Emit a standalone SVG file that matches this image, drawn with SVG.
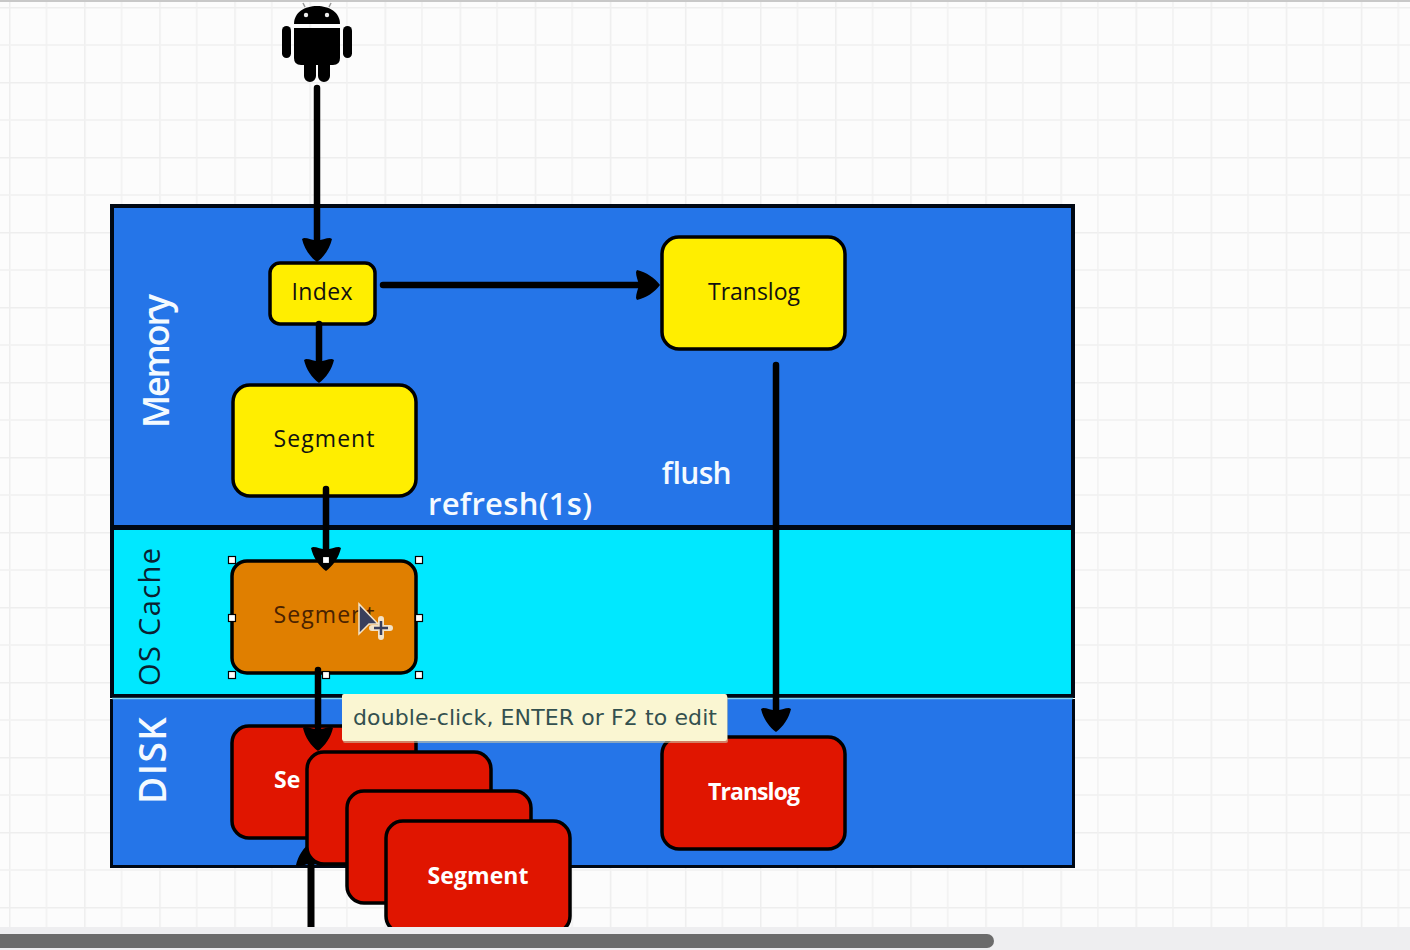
<svg xmlns="http://www.w3.org/2000/svg" width="1410" height="950" viewBox="0 0 1410 950">
<style>
.band{stroke:#000814;stroke-width:4}
.box{stroke:#000;stroke-width:3.5}
.y{fill:#ffee00}.r{fill:#e01500}.o{fill:#e07f00}
text{font-family:"Open Sans","Liberation Sans",sans-serif}
.l{font-size:23px;fill:#111;text-anchor:middle;font-weight:500}
.w{font-size:23px;fill:#fff;font-weight:700;text-anchor:middle}
.big{fill:#f4faff;font-weight:600}
.c{fill:none;stroke:#000;stroke-width:6.500;stroke-linecap:round}
.h{fill:#fff;stroke:#000;stroke-width:1.2}
</style>
<defs>
<pattern id="grid" width="75.1" height="75" patternUnits="userSpaceOnUse" patternTransform="translate(9 7)">
<path d="M0 0V75M0 0H75.1" fill="none" stroke="#eeeeee" stroke-width="3"/>
<path d="M37.5 0V75M0 38H75.1" fill="none" stroke="#f1f1f1" stroke-width="1.5"/>
</pattern>
<marker id="a" markerUnits="userSpaceOnUse" markerWidth="30" markerHeight="32" refX="16" refY="15" orient="auto" overflow="visible">
<path d="M24 15C19 8 10 2 1 0L0 2C0 6 2 11 3 15C2 19 0 24 0 28L1 30C10 28 19 22 24 15Z" fill="#000"/>
</marker>
<clipPath id="view"><rect x="0" y="0" width="1410" height="927"/></clipPath>
</defs>
<rect id="canvas" width="1410" height="950" fill="#fcfcfc"/>
<rect id="grid-bg" width="1410" height="927" fill="url(#grid)"/>
<rect x="0" y="0" width="1410" height="2" fill="#c8c8c8"/>

<g id="android" fill="#000">
<path d="M294 24C294 12 305 6 317 6C329 6 340 12 340 24Z"/>
<path d="M305 7L303 3M329 7L331 3" stroke="#999" stroke-width="1.500"/>
<circle cx="306" cy="15" r="2.200" fill="#eee"/><circle cx="327" cy="15" r="2.200" fill="#eee"/>
<path d="M294 28H340V58Q340 65 333 65H330V76A6 6 0 0 1 318 76V65H316V76A6 6 0 0 1 304 76V65H301Q294 65 294 58Z"/>
<rect x="282" y="26" width="9" height="32" rx="4.500"/>
<rect x="343" y="26" width="9" height="32" rx="4.500"/>
</g>

<g id="band-memory"><rect class="band" x="112" y="206" width="961" height="321" fill="#2575e8"/>
<text class="big" transform="translate(169 428) rotate(-90)" font-size="36" textLength="134">Memory</text></g>
<g id="band-oscache"><rect class="band" x="112" y="528" width="961" height="168" fill="#00e8ff"/>
<text transform="translate(160 686) rotate(-90)" font-size="29" font-weight="500" textLength="138" fill="#0b2030">OS Cache</text></g>
<g id="band-disk"><rect x="110" y="699" width="965" height="169" fill="#000814"/><rect x="113" y="699" width="959" height="166" fill="#2575e8"/>
<path d="M112 698.500H1073" stroke="#7fd4f0" stroke-width="1.500"/>
<text class="big" transform="translate(166 804) rotate(-90)" font-size="37" textLength="87">DISK</text></g>

<g id="index"><rect class="box y" x="270" y="263" width="105" height="61" rx="10"/><text class="l" x="322" y="300" textLength="61">Index</text></g>
<g id="translog-mem"><rect class="box y" x="662" y="237" width="183" height="112" rx="17"/><text class="l" x="754" y="300" textLength="92">Translog</text></g>
<g id="segment-mem"><rect class="box y" x="233" y="385" width="183" height="111" rx="17"/><text class="l" x="324" y="447" textLength="101">Segment</text></g>
<g id="segment-cache"><rect class="box o" x="232" y="561" width="184" height="112" rx="15"/><text class="l" x="324" y="623" textLength="101" style="fill:#4a2200">Segment</text></g>
<g id="segment-disk-1"><rect class="box r" x="232" y="726" width="184" height="112" rx="17"/><text class="w" x="274" y="788" style="text-anchor:start">Se</text></g>
<g id="translog-disk"><rect class="box r" x="662" y="737" width="183" height="112" rx="17"/><text class="w" x="754" y="800" textLength="92">Translog</text></g>

<g id="connectors" clip-path="url(#view)">
<path class="c" d="M317 88V254" marker-end="url(#a)"/>
<path class="c" d="M319 324V375" marker-end="url(#a)"/>
<path class="c" d="M383 285H652" marker-end="url(#a)"/>
<path class="c" d="M776 365V724" marker-end="url(#a)"/>
<path class="c" d="M326 489V563" marker-end="url(#a)"/>
<path class="c" d="M318 670V743" marker-end="url(#a)"/>
<path d="M311 930V850" fill="none" stroke="#000" stroke-width="7" marker-end="url(#a)"/>
</g>

<g clip-path="url(#view)">
<g id="segment-disk-2"><rect class="box r" x="307" y="752" width="184" height="112" rx="17"/></g>
<g id="segment-disk-3"><rect class="box r" x="347" y="791" width="184" height="112" rx="17"/></g>
<g id="segment-disk-4"><rect class="box r" x="386" y="821" width="184" height="112" rx="17"/><text class="w" x="478" y="884" textLength="101">Segment</text></g>
</g>

<text x="428" y="515" font-size="31" font-weight="600" fill="#f4faff" textLength="164">refresh(1s)</text>
<text x="661" y="484" font-size="30" font-weight="600" fill="#f4faff" textLength="70">flush</text>

<g id="selection-handles">
<rect class="h" x="228.500" y="556.500" width="7" height="7"/><rect class="h" x="322.500" y="556.500" width="7" height="7"/><rect class="h" x="415.500" y="556.500" width="7" height="7"/>
<rect class="h" x="228.500" y="614.500" width="7" height="7"/><rect class="h" x="415.500" y="614.500" width="7" height="7"/>
<rect class="h" x="228.500" y="671.500" width="7" height="7"/><rect class="h" x="322.500" y="671.500" width="7" height="7"/><rect class="h" x="415.500" y="671.500" width="7" height="7"/>
</g>
<g id="cursor">
<path d="M359 604V634L369 624L378 624Z" fill="#3a3f5c" stroke="#f3e3c8" stroke-width="1.500"/>
<path d="M381 619V637M372 628H390" stroke="#f3e3c8" stroke-width="6" stroke-linecap="round"/>
<path d="M381 621V635M374 628H388" stroke="#3a3f5c" stroke-width="2.500"/>
</g>
<g id="tooltip">
<rect x="343" y="696" width="385" height="47" rx="2" fill="#c9c6a8" opacity=".6"/>
<rect x="342" y="694" width="385" height="47" rx="2" fill="#faf6d2"/>
<text x="353" y="725" font-size="22" style='font-family:"DejaVu Sans",sans-serif' fill="#33504f" textLength="364">double-click, ENTER or F2 to edit</text>
</g>
<g id="scrollbar">
<rect x="0" y="927" width="1410" height="23" fill="#eeeef0"/>
<rect x="-10" y="934" width="1004" height="14" rx="7" fill="#6b6b6b"/>
</g>
</svg>
